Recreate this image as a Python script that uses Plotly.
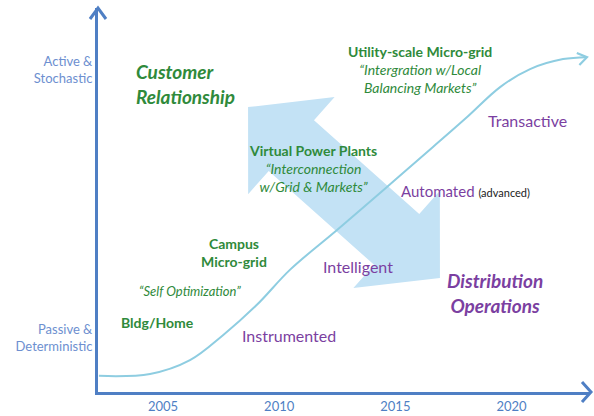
import plotly.graph_objects as go
import math

# ---------------- data ----------------
tick_years = [2005, 2010, 2015, 2020]
tick_labels = ["2005", "2010", "2015", "2020"]
level_ticks = [0.839, 0.141]
level_labels = ["Active &<br>Stochastic", "Passive &<br>Deterministic"]

curve_years = [2002.24, 2004.44, 2006.16, 2007.58, 2009.04, 2010.46, 2012.49,
               2014.64, 2016.62, 2018.09, 2019.51, 2020.80, 2022.22, 2023.25]
curve_levels = [0.042, 0.047, 0.083, 0.148, 0.227, 0.318, 0.422,
                0.534, 0.638, 0.716, 0.794, 0.841, 0.867, 0.872]

arrow_tip_years = [2008.66, 2016.92]
arrow_tip_levels = [0.742, 0.297]

green_labels = [
    ("<b><i>Customer<br>Relationship</i></b>", 2003.75, 0.803),
    ("<b>Utility-scale Micro-grid</b><br><i>“Intergration w/Local<br>Balancing Markets”</i>", 2016.06, 0.840),
    ("<b>Virtual Power Plants</b><br><i>“Interconnection<br>w/Grid &amp; Markets”</i>", 2011.46, 0.582),
    ("<b>Campus<br>Micro-grid</b>", 2008.05, 0.362),
    ("<i>“Self Optimization”</i>", 2006.16, 0.263),
    ("<b>Bldg/Home</b>", 2004.78, 0.182),
]
purple_labels = [
    ("Instrumented", 2010.44, 0.146),
    ("Intelligent", 2013.39, 0.326),
    ("Transactive", 2020.70, 0.708),
    ("<b><i>Distribution<br>Operations</i></b>", 2019.28, 0.258),
]
automated_label = ("Automated", "(advanced)", 2015.15, 0.523)

# ---------------- layout constants ----------------
W, H = 594, 416
ML, MR, MT, MB = 98, 4, 8, 24
XR = [2002.2, 2023.38]
YR = [0.0, 1.0]
PW, PH = W - ML - MR, H - MT - MB
PX_YR = PW / (XR[1] - XR[0])
PX_LV = PH / (YR[1] - YR[0])

AXIS_BLUE = "#4f7fc4"
LABEL_BLUE = "#6d8fd0"
CURVE = "#8ecde1"
ARROW_FILL = "#c3e2f5"
GREEN = "#2f8a3b"
PURPLE = "#7b3fa1"
FONT = "Lato"


def to_px(x, y):
    return (x - XR[0]) * PX_YR, (y - YR[0]) * PX_LV  # y up


def to_data(px, py):
    return XR[0] + px / PX_YR, YR[0] + py / PX_LV


# double-headed arrow polygon (pixel geometry, converted to data)
HEAD_LEN, HEAD_HALF, SHAFT_HALF = 58, 65, 34
p1 = to_px(arrow_tip_years[0], arrow_tip_levels[0])
p2 = to_px(arrow_tip_years[1], arrow_tip_levels[1])
dx, dy = p2[0] - p1[0], p2[1] - p1[1]
L = math.hypot(dx, dy)
ux, uy = dx / L, dy / L
nx, ny = -uy, ux


def pt(base, along, perp):
    return to_data(base[0] + ux * along + nx * perp, base[1] + uy * along + ny * perp)


poly = [
    pt(p1, 0, 0),
    pt(p1, HEAD_LEN, HEAD_HALF),
    pt(p1, HEAD_LEN, SHAFT_HALF),
    pt(p2, -HEAD_LEN, SHAFT_HALF),
    pt(p2, -HEAD_LEN, HEAD_HALF),
    pt(p2, 0, 0),
    pt(p2, -HEAD_LEN, -HEAD_HALF),
    pt(p2, -HEAD_LEN, -SHAFT_HALF),
    pt(p1, HEAD_LEN, -SHAFT_HALF),
    pt(p1, HEAD_LEN, -HEAD_HALF),
    pt(p1, 0, 0),
]

fig = go.Figure()
fig.add_trace(go.Scatter(
    x=[p[0] for p in poly], y=[p[1] for p in poly], mode="lines",
    fill="toself", fillcolor=ARROW_FILL, line=dict(width=0, color=ARROW_FILL),
    hoverinfo="skip", showlegend=False))

fig.add_trace(go.Scatter(
    x=curve_years, y=curve_levels, mode="lines",
    line=dict(color=CURVE, width=2, shape="spline", smoothing=1.0),
    hoverinfo="skip", showlegend=False))

# chevron at end of curve
e = to_px(curve_years[-1], curve_levels[-1])
b = to_px(curve_years[-3], curve_levels[-3])
ang = math.atan2(e[1] - b[1], e[0] - b[0])
chev = []
for s in (1, -1):
    a = ang + math.pi - s * 0.6
    chev.append(to_data(e[0] + 11 * math.cos(a), e[1] + 11 * math.sin(a)))
fig.add_trace(go.Scatter(
    x=[chev[0][0], curve_years[-1], chev[1][0]],
    y=[chev[0][1], curve_levels[-1], chev[1][1]], mode="lines",
    line=dict(color=CURVE, width=2.2), hoverinfo="skip", showlegend=False))

# axis chevrons (paper coords)
def chevron_path(tx, ty, ax, ay, bx, by):
    return f"M{ax},{ay} L{tx},{ty} L{bx},{by}"

fig.add_shape(type="path", xref="paper", yref="paper",
              path=chevron_path(1 + 1 / PW, 0, 1 - 8 / PW, 10 / PH, 1 - 8 / PW, -10 / PH),
              line=dict(color=AXIS_BLUE, width=3))
fig.add_shape(type="path", xref="paper", yref="paper",
              path=chevron_path(0, 1, -8 / PW, 1 - 11 / PH, 8 / PW, 1 - 11 / PH),
              line=dict(color=AXIS_BLUE, width=3))

for i, (text, x, y) in enumerate(green_labels):
    left = i == 0
    size = 19 if left else (13 if i == 4 else 14)
    fig.add_annotation(x=x, y=y, text=text, showarrow=False,
                       xanchor="left" if left else "center",
                       align="left" if left else "center",
                       font=dict(family=FONT, size=size, color=GREEN))

for text, x, y in purple_labels:
    big = text.startswith("<b>")
    fig.add_annotation(x=x, y=y, text=text, showarrow=False,
                       font=dict(family=FONT, size=19 if big else 16, color=PURPLE))

fig.add_annotation(x=automated_label[2], y=automated_label[3], xanchor="left",
                   text=f"{automated_label[0]} <span style='font-size:11px;color:#222222'>{automated_label[1]}</span>",
                   showarrow=False, font=dict(family=FONT, size=15, color=PURPLE))

fig.update_layout(
    width=W, height=H, margin=dict(l=ML, r=MR, t=MT, b=MB),
    paper_bgcolor="white", plot_bgcolor="white", showlegend=False,
    xaxis=dict(range=XR, showgrid=False, zeroline=False, showline=True, automargin=False,
               linecolor=AXIS_BLUE, linewidth=3, tickvals=tick_years,
               ticktext=tick_labels, ticks="", ticklabelstandoff=0,
               tickfont=dict(family=FONT, size=13, color=AXIS_BLUE)),
    yaxis=dict(range=YR, showgrid=False, zeroline=False, showline=True, automargin=False,
               linecolor=AXIS_BLUE, linewidth=3, tickvals=level_ticks,
               ticktext=level_labels, ticks="",
               tickfont=dict(family=FONT, size=13, color=LABEL_BLUE)),
)

fig.write_html("out.html", config={"displayModeBar": False},
               post_script="document.body.style.margin='0px';")
